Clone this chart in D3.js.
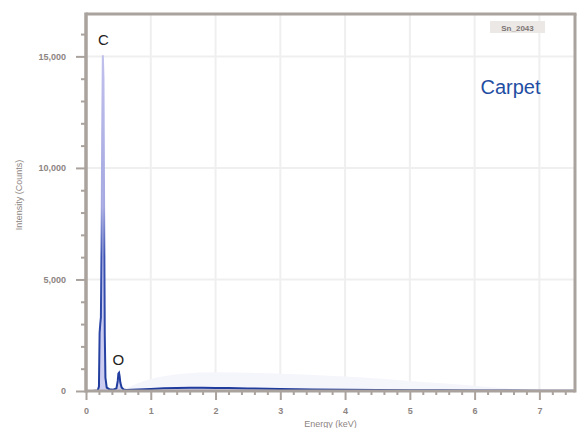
<!DOCTYPE html>
<html><head><meta charset="utf-8">
<script src="https://cdn.jsdelivr.net/npm/d3@7"></script>
<style>body{margin:0;background:#fff}svg{display:block}</style>
</head><body>
<script>
const energy = [0,0.1,0.18,0.2,0.21,0.22,0.23,0.24,0.25,0.26,0.27,0.28,0.29,0.3,0.32,0.36,0.42,0.47,0.49,0.5,0.51,0.52,0.53,0.55,0.58,0.62,0.7,0.8,1.0,1.2,1.4,1.6,1.8,2.0,2.2,2.5,2.8,3.0,3.5,4.0,4.5,5.0,5.5,6.0,6.5,7.0,7.55];
const counts = [0,0,20,200,2600,3000,3300,6500,11500,15050,14000,8000,2500,600,150,80,60,120,450,780,820,640,380,160,70,50,60,70,90,120,140,150,150,140,130,115,100,90,70,55,45,35,30,22,18,12,8];
const envelopeE = [0.6,1.0,1.5,2.0,2.5,3.0,3.5,4.0,4.5,5.0,5.5,6.0,6.5,6.8];
const envelopeC = [100,600,800,850,820,780,720,650,560,450,350,230,110,40];
const yTicks = [0,5000,10000,15000];
const xTicks = [0,1,2,3,4,5,6,7];
const labels = {peaks:[{t:"C",e:0.27,c:15500},{t:"O",e:0.5,c:1170}], sample:"Carpet", tag:"Sn_2043", xTitle:"Energy (keV)", yTitle:"Intensity (Counts)"};

const W=581,H=428, L=86,R=575,T=14,B=391;
const svg=d3.select("body").append("svg").attr("width",W).attr("height",H);
const x=d3.scaleLinear().domain([0,7.55]).range([L,R]);
const y=d3.scaleLinear().domain([0,16900]).range([B,T]);
const axisCol="#aaa29d", textCol="#8d8582", font="'Liberation Sans', Arial, sans-serif";

// grid
svg.append("g").selectAll("line").data(xTicks.filter(d=>d>0)).join("line")
 .attr("x1",d=>x(d)).attr("x2",d=>x(d)).attr("y1",T).attr("y2",B)
 .attr("stroke","#efefef").attr("stroke-width",2);
svg.append("g").selectAll("line").data(yTicks.filter(d=>d>0)).join("line")
 .attr("x1",L).attr("x2",R).attr("y1",d=>y(d)).attr("y2",d=>y(d))
 .attr("stroke","#efefef").attr("stroke-width",2);

// gradient for spectrum stroke
const defs=svg.append("defs");
const g=defs.append("linearGradient").attr("id","sg").attr("gradientUnits","userSpaceOnUse")
 .attr("x1",0).attr("x2",0).attr("y1",y(15000)).attr("y2",y(0));
g.append("stop").attr("offset","0%").attr("stop-color","#c0c0ec");
g.append("stop").attr("offset","45%").attr("stop-color","#a4a8e0");
g.append("stop").attr("offset","60%").attr("stop-color","#3a52b2");
g.append("stop").attr("offset","100%").attr("stop-color","#1f3b9c");

// noise envelope
const envData=envelopeE.map((e,i)=>({e,c:envelopeC[i]}));
svg.append("path").datum(envData)
 .attr("d",d3.area().x(d=>x(d.e)).y0(y(0)).y1(d=>y(d.c)).curve(d3.curveBasis))
 .attr("fill","#f5f5fc");

const data=energy.map((e,i)=>({e,c:counts[i]}));
svg.append("path").datum(data)
 .attr("d",d3.area().x(d=>x(d.e)).y0(y(0)).y1(d=>y(d.c)))
 .attr("fill","#c6c6ee").attr("opacity",0.9);
svg.append("path").datum(data)
 .attr("d",d3.line().x(d=>x(d.e)).y(d=>y(d.c)))
 .attr("fill","none").attr("stroke","url(#sg)").attr("stroke-width",2);

// axes
const yAxis=svg.append("g").attr("transform",`translate(${L},0)`)
 .call(d3.axisLeft(y).tickValues(yTicks).tickSize(10).tickFormat(d3.format(",")));
const xAxis=svg.append("g").attr("transform",`translate(0,${B})`)
 .call(d3.axisBottom(x).tickValues(xTicks).tickSize(9).tickFormat(d3.format("d")));
// minor ticks
svg.append("g").attr("transform",`translate(${L},0)`)
 .call(d3.axisLeft(y).tickValues(d3.range(1000,16900,1000).filter(d=>d%5000)).tickSize(5).tickFormat(""));
svg.append("g").attr("transform",`translate(0,${B})`)
 .call(d3.axisBottom(x).tickValues(d3.range(0.2,7.55,0.2).filter(d=>Math.abs(d-Math.round(d))>0.01)).tickSize(4).tickFormat(""));
svg.selectAll(".domain").remove();
svg.selectAll(".tick line").attr("stroke",axisCol).attr("stroke-width",2);
svg.selectAll(".tick text").attr("fill",textCol).attr("font-family",font).attr("font-size",9).attr("font-weight","bold");
yAxis.selectAll(".tick text").attr("x",-20);
xAxis.selectAll(".tick text").attr("y",17);

// frame
svg.append("line").attr("x1",L).attr("x2",L).attr("y1",T-1.5).attr("y2",B+1.5).attr("stroke",axisCol).attr("stroke-width",3.5);
svg.append("line").attr("x1",L).attr("x2",R).attr("y1",B).attr("y2",B).attr("stroke",axisCol).attr("stroke-width",3);
svg.append("line").attr("x1",L).attr("x2",R+1.5).attr("y1",T).attr("y2",T).attr("stroke",axisCol).attr("stroke-width",3);
svg.append("line").attr("x1",R).attr("x2",R).attr("y1",T).attr("y2",B+1.5).attr("stroke",axisCol).attr("stroke-width",3);

// axis titles
svg.append("text").attr("x",(L+R)/2).attr("y",427).attr("text-anchor","middle")
 .attr("font-family",font).attr("font-size",9).attr("fill",textCol).text(labels.xTitle);
svg.append("text").attr("transform","translate(22,195) rotate(-90)").attr("text-anchor","middle")
 .attr("font-family",font).attr("font-size",9).attr("fill",textCol).text(labels.yTitle);

// peak labels
svg.selectAll(".pk").data(labels.peaks).join("text").attr("class","pk")
 .attr("x",d=>x(d.e)).attr("y",d=>y(d.c)).attr("text-anchor","middle")
 .attr("font-family",font).attr("font-size",15).attr("fill","#222").text(d=>d.t);

// tag box
svg.append("rect").attr("x",490).attr("y",21).attr("width",55).attr("height",12).attr("fill","#ebe8e6");
svg.append("text").attr("x",517.5).attr("y",30.5).attr("text-anchor","middle")
 .attr("font-family",font).attr("font-size",8).attr("font-weight","bold").attr("fill","#7d7573").text(labels.tag);
svg.append("text").attr("x",510.5).attr("y",94).attr("text-anchor","middle")
 .attr("font-family",font).attr("font-size",20).attr("fill","#1f4ea3").text(labels.sample);
</script>
</body></html>
